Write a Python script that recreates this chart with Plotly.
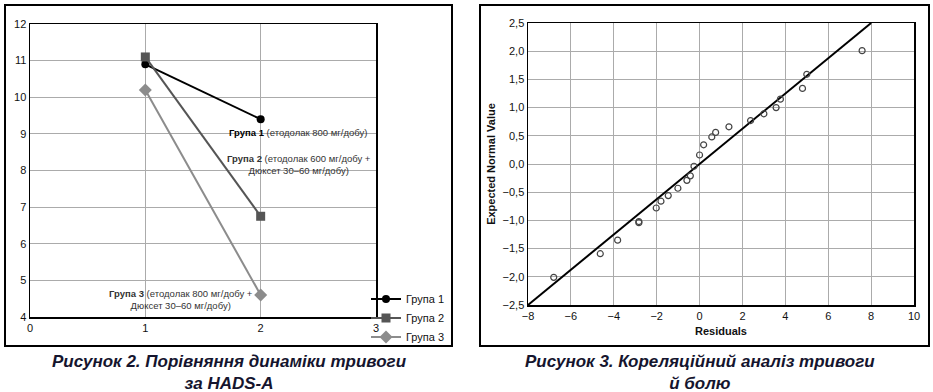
import plotly.graph_objects as go

# ---- Figure 2 data (HADS-A dynamics) ----
visits = [1, 2]
group_names = ["Група 1", "Група 2", "Група 3"]
group1 = [10.9, 9.4]
group2 = [11.1, 6.75]
group3 = [10.2, 4.6]

# ---- Figure 3 data (normal probability plot of residuals) ----
residuals = [7.58, 5.0, 4.8, 3.77, 3.57, 3.0, 2.38, 1.37, 0.75, 0.57, 0.19, 0.0,
             -0.26, -0.43, -0.59, -1.01, -1.46, -1.8, -2.02, -2.83, -2.83, -3.82, -4.63, -6.8]
expected = [2.01, 1.59, 1.34, 1.15, 1.0, 0.89, 0.77, 0.66, 0.56, 0.48, 0.34, 0.16,
            -0.04, -0.21, -0.29, -0.43, -0.56, -0.66, -0.78, -1.02, -1.04, -1.35, -1.59, -2.01]
fit_x = [-8, 8]
fit_y = [-2.5, 2.5]

W, H = 933, 392
FONT = "Liberation Sans, Arial, sans-serif"

fig = go.Figure()

styles = [
    dict(color="#000000", symbol="circle", size=8),
    dict(color="#555555", symbol="square", size=9),
    dict(color="#8c8c8c", symbol="diamond", size=10),
]
for name, vals, st in zip(group_names, [group1, group2, group3], styles):
    fig.add_trace(go.Scatter(
        x=visits, y=vals, name=name, mode="lines+markers",
        line=dict(color=st["color"], width=2),
        marker=dict(color=st["color"], symbol=st["symbol"], size=st["size"]),
        xaxis="x", yaxis="y", cliponaxis=False,
    ))

fig.add_trace(go.Scatter(
    x=fit_x, y=fit_y, mode="lines", line=dict(color="black", width=2),
    xaxis="x2", yaxis="y2", showlegend=False,
))
fig.add_trace(go.Scatter(
    x=residuals, y=expected, mode="markers",
    marker=dict(symbol="circle-open", size=6, color="#444444", line=dict(width=1.2)),
    xaxis="x2", yaxis="y2", showlegend=False,
))

def px_x(p):
    return p / W

def px_y(p):
    return 1 - p / H

axis_common = dict(showline=True, linecolor="black", linewidth=1.5, mirror=True,
                   gridcolor="#ababab", gridwidth=1, zeroline=False, ticks="",
                   automargin=False,
                   tickfont=dict(family=FONT, size=11, color="#111"))

fig.update_layout(
    template="none",
    width=W, height=H, margin=dict(l=0, r=0, t=0, b=0, pad=0, autoexpand=False),
    paper_bgcolor="white", plot_bgcolor="white",
    separators=", ",
    font=dict(family=FONT, color="#111"),
    xaxis=dict(domain=[px_x(30), px_x(376)], range=[0, 3], dtick=1, anchor="y",
               **axis_common),
    yaxis=dict(domain=[px_y(317), px_y(24)], range=[4, 12], dtick=1, anchor="x",
               **axis_common),
    xaxis2=dict(domain=[px_x(528), px_x(914)], range=[-8, 10], dtick=2, anchor="y2",
                title=dict(text="<b>Residuals</b>", font=dict(family=FONT, size=11), standoff=6),
                **axis_common),
    yaxis2=dict(domain=[px_y(305), px_y(23)], range=[-2.5, 2.5], dtick=0.5, anchor="x2",
                tickformat=".1f",
                title=dict(text="<b>Expected Normal Value</b>", font=dict(family=FONT, size=11), standoff=4),
                **axis_common),
    legend=dict(x=px_x(366), xanchor="left", y=px_y(318), yanchor="middle",
                font=dict(family=FONT, size=11, color="#111"), bgcolor="rgba(0,0,0,0)",
                tracegroupgap=0, itemwidth=30),
    showlegend=True,
)

# frames around both panels
for x0, x1 in [(5, 452), (480, 929)]:
    fig.add_shape(type="rect", xref="paper", yref="paper",
                  x0=px_x(x0), x1=px_x(x1), y0=px_y(346), y1=px_y(5),
                  line=dict(color="black", width=2), fillcolor="rgba(0,0,0,0)")

ann_font = dict(family=FONT, size=9.5, color="#333")
fig.add_annotation(xref="x", yref="y", x=2.32, y=9.05, showarrow=False, font=ann_font,
                   text="<b style='color:#000'>Група 1</b> (етодолак 800 мг/добу)")
fig.add_annotation(xref="x", yref="y", x=2.33, y=8.17, showarrow=False, font=ann_font,
                   text="<b>Група 2</b> (етодолак 600 мг/добу +<br>Дюксет 30–60 мг/добу)")
fig.add_annotation(xref="x", yref="y", x=1.31, y=4.49, showarrow=False, font=ann_font,
                   text="<b>Група 3</b> (етодолак 800 мг/добу +<br>Дюксет 30–60 мг/добу)")

cap_font = dict(family=FONT, size=17, color="#15152e")
fig.add_annotation(xref="paper", yref="paper", x=px_x(229), y=px_y(372), showarrow=False,
                   font=cap_font, xanchor="center", yanchor="middle", align="center",
                   text="<b><i>Рисунок 2. Порівняння динаміки тривоги<br>за HADS-A</i></b>")
fig.add_annotation(xref="paper", yref="paper", x=px_x(700), y=px_y(372), showarrow=False,
                   font=cap_font, xanchor="center", yanchor="middle", align="center",
                   text="<b><i>Рисунок 3. Кореляційний аналіз тривоги<br>й болю</i></b>")

fig.write_html("out.html", config={"displayModeBar": False, "staticPlot": True},
               post_script="document.body.style.margin='0px';document.body.style.padding='0px';")
